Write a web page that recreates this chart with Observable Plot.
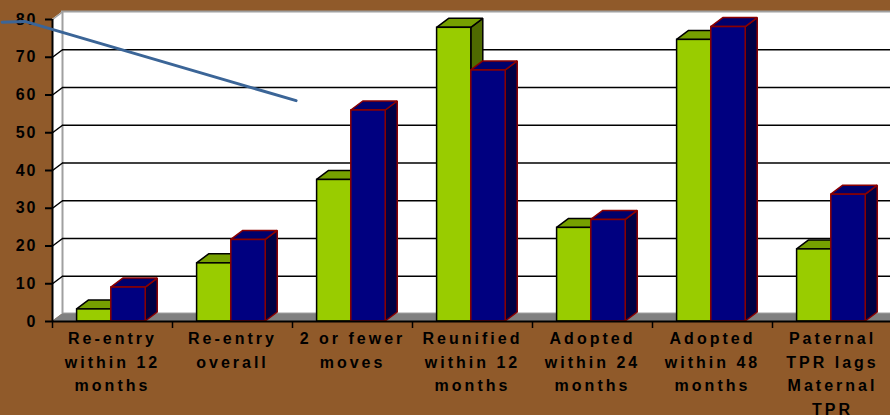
<!DOCTYPE html>
<html>
<head>
<meta charset="utf-8">
<script src="https://cdn.jsdelivr.net/npm/d3@7"></script>
<script src="https://cdn.jsdelivr.net/npm/@observablehq/plot@0.6"></script>
<style>
  html, body { margin: 0; padding: 0; background: #905A2A; }
  #chart { width: 890px; height: 415px; overflow: hidden; }
</style>
</head>
<body>
<div id="chart"></div>
<script>
const categories = [
  "Re-entry\nwithin 12\nmonths",
  "Re-entry\noverall",
  "2 or fewer\nmoves",
  "Reunified\nwithin 12\nmonths",
  "Adopted\nwithin 24\nmonths",
  "Adopted\nwithin 48\nmonths",
  "Paternal\nTPR lags\nMaternal\nTPR"
];
const greenValues = [3.2, 15.4, 37.5, 77.8, 24.8, 74.6, 19.1];
const blueValues  = [9.0, 21.6, 55.9, 66.5, 26.9, 78.0, 33.6];
const yTicks = [0, 10, 20, 30, 40, 50, 60, 70, 80];
const gridValues = [10, 20, 30, 40, 50, 60, 70];
// annotation line (category units, value units)
const lineX = [-0.42, -0.23, 2.03];
const lineY = [79.3, 79.5, 58.5];

const n = categories.length;
const PXX = 120, PXY = 3.775;            // pixels per unit
const DX = 12 / PXX, DY = 9 / PXY;       // bar depth
const WX = 10 / PXX, WY = 7.5 / PXY;     // wall depth

function series(values, off1, off2, key) {
  return values.map((v, i) => ({z: key + i, x1: i + off1, x2: i + off2, y1: 0, v}));
}
const gBars = series(greenValues, 0.205, 0.49, "g");
const bBars = series(blueValues, 0.49, 0.777, "b");

function barMarks(bars, front, top, side, stroke) {
  const sidePts = bars.flatMap(b => [
    {z: b.z, x: b.x2, y1: 0, y2: b.v},
    {z: b.z, x: b.x2 + DX, y1: DY, y2: b.v + DY}
  ]);
  const topPts = bars.flatMap(b => [
    {z: b.z, y: b.v, x1: b.x1, x2: b.x2},
    {z: b.z, y: b.v + DY, x1: b.x1 + DX, x2: b.x2 + DX}
  ]);
  return [
    Plot.areaY(sidePts, {x: "x", y1: "y1", y2: "y2", z: "z", fill: side, stroke, strokeWidth: 1.5, strokeLinejoin: "miter"}),
    Plot.areaX(topPts, {y: "y", x1: "x1", x2: "x2", z: "z", fill: top, stroke, strokeWidth: 1.5, strokeLinejoin: "miter"}),
    Plot.rect(bars, {x1: "x1", x2: "x2", y1: "y1", y2: "v", fill: front, stroke, strokeWidth: 1.5})
  ];
}

const wallPts = [{x: 0, y1: 0, y2: 80}, {x: WX, y1: WY, y2: 80 + WY}];
const floorPts = [{y: 0, x1: 0, x2: n}, {y: WY, x1: WX, x2: n + WX}];
const backWall = [{x1: WX, x2: n + WX, y1: WY, y2: 80 + WY}];
const gridRows = gridValues.map(v => ({v, a: 0, b: WX, vb: v + WY, e: n + WX}));
const topRow = [{v: 80, a: 0, b: WX, vb: 80 + WY}];
const sideEdge = [{x: WX, y1: WY, y2: 80 + WY}];
const yAxisLine = [{x: 0, y1: 0, y2: 80}];
const xAxisLine = [{y: 0, x1: 0, x2: n}];
const labelRows = categories.map((c, i) => ({c, x: i + 0.5, y: 0}));
const linePts = lineX.map((x, i) => ({x, y: lineY[i]}));

const chart = Plot.plot({
  width: 890,
  height: 415,
  marginLeft: 52, marginRight: 0, marginTop: 19, marginBottom: 94,
  x: {domain: [0, n], range: [52, 892]},
  y: {domain: [0, 80], range: [321, 19]},
  style: {background: "transparent", fontFamily: "'Liberation Sans', Arial, sans-serif", fontSize: "16px", fontWeight: "bold", color: "#000"},
  marks: [
    // back wall
    Plot.rect(backWall, {x1: "x1", x2: "x2", y1: "y1", y2: "y2", fill: "white", stroke: "#a0a0a0", strokeWidth: 2}),
    // side wall
    Plot.areaY(wallPts, {x: "x", y1: "y1", y2: "y2", fill: "white"}),
    Plot.ruleX(sideEdge, {x: "x", y1: "y1", y2: "y2", stroke: "#a0a0a0", strokeWidth: 2}),
    Plot.link(topRow, {x1: "a", y1: "v", x2: "b", y2: "vb", stroke: "#a0a0a0", strokeWidth: 1.5}),
    // gridlines
    Plot.ruleY(gridRows, {x1: "b", x2: "e", y: "vb", stroke: "black", strokeWidth: 1.5}),
    Plot.link(gridRows, {x1: "a", y1: "v", x2: "b", y2: "vb", stroke: "black", strokeWidth: 1.5}),
    // floor
    Plot.areaX(floorPts, {y: "y", x1: "x1", x2: "x2", fill: "#808080"}),
    // bars
    ...barMarks(gBars, "#99CC00", "#76A000", "#4E6A00", "black"),
    ...barMarks(bBars, "#000080", "#00006C", "#000044", "#8B0000"),
    // axes
    Plot.ruleX(yAxisLine, {x: "x", y1: "y1", y2: "y2", stroke: "black", strokeWidth: 2}),
    Plot.ruleY(xAxisLine, {y: "y", x1: "x1", x2: "x2", stroke: "black", strokeWidth: 2}),
    Plot.axisY({ticks: yTicks, label: null, tickSize: 7, tickPadding: 8, strokeWidth: 2, fontSize: 16, fontWeight: "bold"}),
    Plot.axisX({ticks: d3.range(0, n + 1), label: null, tickSize: 7, tickFormat: () => "", strokeWidth: 1.5}),
    Plot.text(labelRows, {x: "x", y: "y", dy: 6, text: "c", lineAnchor: "top", lineHeight: 1.47, fontSize: 16, fontWeight: "bold", fill: "black"}),
    // annotation line
    Plot.line(linePts, {x: "x", y: "y", stroke: "#3B6597", strokeWidth: 3})
  ]
});
d3.select(chart).selectAll('g[aria-label="text"] text').style("letter-spacing", "3px");
d3.select(chart).selectAll('g[aria-label="y-axis tick label"] text').style("letter-spacing", "2px");
document.getElementById("chart").appendChild(chart);
</script>
</body>
</html>
